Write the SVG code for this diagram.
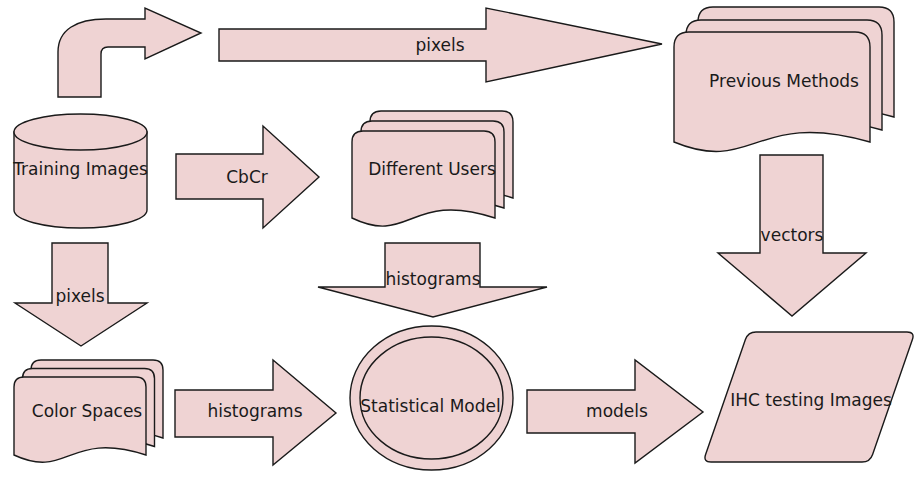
<svg xmlns="http://www.w3.org/2000/svg" xmlns:xlink="http://www.w3.org/1999/xlink" width="916" height="477" viewBox="0 0 916 477">
  <style>
    .s { fill: #efd3d3; stroke: #1a1a1a; stroke-width: 1.4; stroke-linejoin: miter; }
    .t { font-family: "DejaVu Sans", "Liberation Sans", sans-serif; font-size: 17px; fill: #1a1a1a; text-anchor: middle; }
  </style>
  <defs>
    <path id="docPM" d="M674,142 L674,47 Q674,32 689,32 L855,32 Q870,32 870,47 L870,142 C754,109 754,175 674,142 Z"/>
    <path id="docDU" d="M352,218 L352,142 Q352,131 363,131 L484,131 Q495,131 495,142 L495,218 C410,190 410,246 352,218 Z"/>
    <path id="docCS" d="M14,455 L14,387 Q14,377 24,377 L136,377 Q146,377 146,387 L146,455 C68,430 68,480 14,455 Z"/>
  </defs>

  <g id="connectors">
    <path class="s" d="M58,97 L58,52 C58,30 76,19 106,19 L145,19 L145,8 L201,33 L145,59 L145,47 L108,47 Q101,47 101,54 L101,97 Z"/>
    <g id="arrow-pixels-top">
      <polygon class="s" points="219,29 486,29 486,8 662,44 486,82 486,61 219,61"/>
      <text class="t" x="440" y="51">pixels</text>
    </g>
    <g id="arrow-cbcr">
      <polygon class="s" points="176,154 263,154 263,126 319,177 263,228 263,199 176,199"/>
      <text class="t" x="247" y="183">CbCr</text>
    </g>
    <g id="arrow-histograms-down">
      <polygon class="s" points="385,243 480,243 480,287 547,287 433,317 318,287 385,287"/>
      <text class="t" x="433" y="285">histograms</text>
    </g>
    <g id="arrow-vectors">
      <polygon class="s" points="760,155 823,155 823,253 866,253 792,316 718,253 760,253"/>
      <text class="t" x="792" y="241">vectors</text>
    </g>
    <g id="arrow-pixels-down">
      <polygon class="s" points="52,243 108,243 108,303 147,303 81,346 15,303 52,303"/>
      <text class="t" x="80" y="302">pixels</text>
    </g>
    <g id="arrow-histograms-right">
      <polygon class="s" points="175,390 273,390 273,360 336,413 273,465 273,437 175,437"/>
      <text class="t" x="255" y="417">histograms</text>
    </g>
    <g id="arrow-models">
      <polygon class="s" points="527,390 635,390 635,360 703,412 635,463 635,433 527,433"/>
      <text class="t" x="617" y="417">models</text>
    </g>
  </g>

  <g id="previous-methods">
    <use xlink:href="#docPM" href="#docPM" class="s" x="24" y="-25"/>
    <use xlink:href="#docPM" href="#docPM" class="s" x="12" y="-12"/>
    <use xlink:href="#docPM" href="#docPM" class="s"/>
    <text class="t" x="784" y="87">Previous Methods</text>
  </g>

  <g id="training-images">
    <path class="s" d="M14,132 L14,210 A66.5,18 0 0 0 147,210 L147,132 Z"/>
    <ellipse class="s" cx="80.5" cy="132" rx="66.5" ry="18"/>
    <text class="t" x="80.5" y="175">Training Images</text>
  </g>

  <g id="different-users">
    <use xlink:href="#docDU" href="#docDU" class="s" x="18" y="-20"/>
    <use xlink:href="#docDU" href="#docDU" class="s" x="9" y="-10"/>
    <use xlink:href="#docDU" href="#docDU" class="s"/>
    <text class="t" x="432" y="175">Different Users</text>
  </g>

  <g id="color-spaces">
    <use xlink:href="#docCS" href="#docCS" class="s" x="17" y="-17"/>
    <use xlink:href="#docCS" href="#docCS" class="s" x="8.5" y="-8.5"/>
    <use xlink:href="#docCS" href="#docCS" class="s"/>
    <text class="t" x="87" y="417">Color Spaces</text>
  </g>

  <g id="statistical-model">
    <ellipse class="s" cx="431.5" cy="398" rx="81.5" ry="72"/>
    <ellipse class="s" cx="431.5" cy="398" rx="71.5" ry="61"/>
    <text class="t" x="430.5" y="412">Statistical Model</text>
  </g>

  <g id="ihc-testing-images">
    <path class="s" d="M756,332 L907,332 Q915,332 912.4,339.6 L872.6,454.4 Q870,462 862,462 L711,462 Q703,462 705.6,454.4 L745.4,339.6 Q748,332 756,332 Z"/>
    <text class="t" x="811" y="406">IHC testing Images</text>
  </g>
</svg>
